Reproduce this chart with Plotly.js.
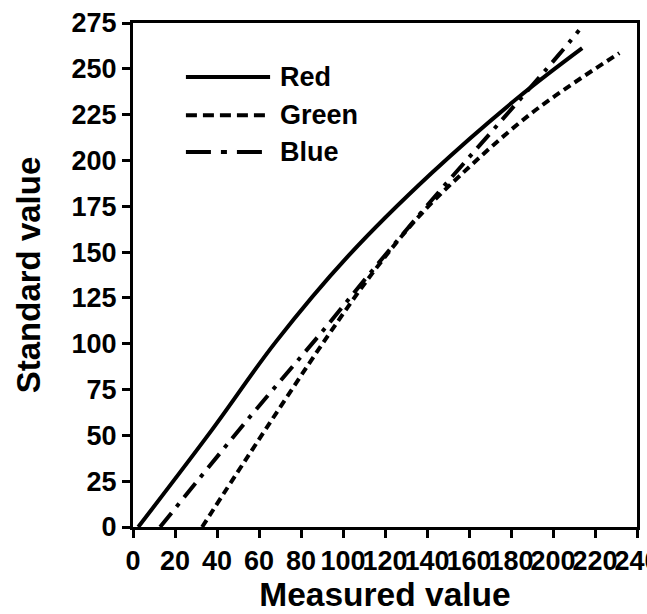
<!DOCTYPE html>
<html>
<head>
<meta charset="utf-8">
<script src="https://cdn.plot.ly/plotly-3.0.1.min.js"></script>
<style>html,body{margin:0;padding:0;background:#fff;}#chart{width:647px;height:614px;}</style>
</head>
<body>
<div id="chart"></div>
<script>
// Series
var seriesNames = ["Red", "Green", "Blue"];
var redX = [2.5, 37.6, 68, 102.2, 142.1, 183.7, 213.9];
var redY = [0, 53, 101, 147.5, 193, 234.6, 261.3];
var greenX = [32.9, 54.4, 92.6, 115, 135, 155, 190, 231.6];
var greenY = [0, 38, 104, 140, 168, 191, 226, 258.6];
var blueX = [12.9, 55.1, 88.7, 114, 142, 175.6, 203, 212.4];
var blueY = [0, 59.3, 104.7, 140, 178, 222, 258, 271];
var xTicks = [0, 20, 40, 60, 80, 100, 120, 140, 160, 180, 200, 220, 240];
var yTicks = [0, 25, 50, 75, 100, 125, 150, 175, 200, 225, 250, 275];

var FONT = "Arial, 'Liberation Sans', sans-serif";
var dashes = ["solid", "8px,5px", "18px,8px,4px,8px"];
var legendDashes = ["solid", "11px,6px", "25px,10px,6px,10px"];
var xs = [redX, greenX, blueX];
var ys = [redY, greenY, blueY];

var traces = seriesNames.map(function (n, i) {
  return {
    x: xs[i], y: ys[i], name: n, type: "scatter", mode: "lines",
    line: {color: "#000", width: 4, dash: dashes[i], shape: "spline", smoothing: 1},
    showlegend: false, hoverinfo: "skip"
  };
});

// Custom legend (long sample lines like the reference)
var legY = [0.893, 0.817, 0.744];
var shapes = [];
var annotations = [];
seriesNames.forEach(function (n, i) {
  shapes.push({type: "line", xref: "paper", yref: "paper", x0: 0.105, x1: 0.272, y0: legY[i], y1: legY[i],
    line: {color: "#000", width: 4, dash: legendDashes[i]}});
  annotations.push({xref: "paper", yref: "paper", x: 0.288, y: legY[i], xanchor: "left", yanchor: "middle",
    text: "<b>" + n + "</b>", showarrow: false, font: {family: FONT, size: 27, color: "#000"}});
});

var layout = {
  width: 647, height: 614,
  margin: {l: 133, r: 10, t: 23, b: 87},
  paper_bgcolor: "#fff", plot_bgcolor: "#fff",
  showlegend: false,
  shapes: shapes,
  annotations: annotations,
  xaxis: {
    range: [0, 240], tickmode: "array", tickvals: xTicks, ticktext: xTicks.map(String),
    tickangle: 0, ticks: "outside", ticklen: 8, tickwidth: 3, tickcolor: "#000",
    ticklabeloverflow: "allow",
    showline: true, linewidth: 3, linecolor: "#000", mirror: true,
    showgrid: false, zeroline: false,
    tickfont: {family: FONT, size: 27, color: "#000", weight: "bold"},
    title: {text: "<b>Measured value</b>", font: {family: FONT, size: 33.5, color: "#000"}, standoff: 4},
    automargin: false
  },
  yaxis: {
    range: [0, 275], tickmode: "array", tickvals: yTicks, ticktext: yTicks.map(String),
    ticks: "outside", ticklen: 8, tickwidth: 3, tickcolor: "#000",
    ticklabeloverflow: "allow",
    showline: true, linewidth: 3, linecolor: "#000", mirror: true,
    showgrid: false, zeroline: false,
    tickfont: {family: FONT, size: 27, color: "#000", weight: "bold"},
    title: {text: "<b>Standard value</b>", font: {family: FONT, size: 33, color: "#000"}, standoff: 21},
    automargin: false
  }
};

Plotly.newPlot("chart", traces, layout, {displayModeBar: false, staticPlot: true});
</script>
</body>
</html>
